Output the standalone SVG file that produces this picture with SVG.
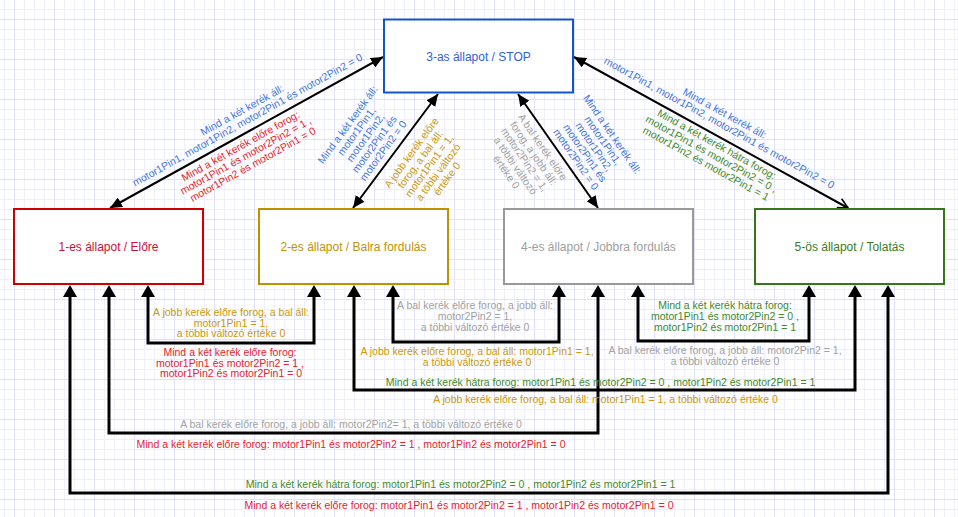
<svg xmlns="http://www.w3.org/2000/svg" width="958" height="517" viewBox="0 0 958 517">
<defs>
<pattern id="grid" width="40" height="40" patternUnits="userSpaceOnUse" x="14" y="19">
<rect width="40" height="40" fill="#ffffff"/>
<path d="M10.5 0V40M20.5 0V40M30.5 0V40M0 10.5H40M0 20.5H40M0 30.5H40" stroke="#eeeefc" stroke-width="1" fill="none"/>
<path d="M0.5 0V40M0 0.5H40" stroke="#e0e0f8" stroke-width="1" fill="none"/>
</pattern>
<marker id="ah" viewBox="0 0 12 14" refX="0" refY="7" markerWidth="12" markerHeight="14" markerUnits="userSpaceOnUse" orient="auto-start-reverse">
<path d="M0 0L12 7L0 14z" fill="#000"/>
</marker>
<marker id="dh" viewBox="0 0 12 11" refX="12" refY="5.5" markerWidth="12" markerHeight="11" markerUnits="userSpaceOnUse" orient="auto-start-reverse">
<path d="M0 0L12 5.5L0 11z" fill="#000"/>
</marker>
<marker id="oh" viewBox="-1 -1 12 12" refX="10" refY="5" markerWidth="12" markerHeight="12" markerUnits="userSpaceOnUse" orient="auto">
<path d="M0 0L10 5L0 10" fill="none" stroke="#000" stroke-width="1.6"/>
</marker>
</defs>
<style>
.node rect{fill:#ffffff;stroke-width:2}
.t{font-family:'Liberation Sans',Arial,Helvetica,sans-serif;font-size:10.5px;text-anchor:middle}
.nt{font-family:'Liberation Sans',Arial,Helvetica,sans-serif;font-size:12px;text-anchor:middle}
.ortho{fill:none;stroke:#000;stroke-width:3;marker-start:url(#ah);marker-end:url(#ah)}
.diag{fill:none;stroke:#000;stroke-width:2}
.blue{fill:#4476dc}
.red{fill:#e5232b}
.gold{fill:#c9990b}
.gray{fill:#a2a2a2}
.green{fill:#3f8a2c}
</style>
<rect x="0" y="0" width="958" height="517" fill="url(#grid)"/>

<g id="connectors">
<path class="diag" d="M110 208L383 57" marker-start="url(#dh)" marker-end="url(#dh)"/>
<path class="diag" d="M353 208L438 94" marker-start="url(#dh)" marker-end="url(#dh)"/>
<path class="diag" d="M518 94L598 208" marker-start="url(#dh)" marker-end="url(#dh)"/>
<path class="diag" d="M574 57L848 208" marker-start="url(#dh)" marker-end="url(#oh)"/>
<path class="ortho" d="M148 297V343H314V297"/>
<path class="ortho" d="M393 297V342H559V297"/>
<path class="ortho" d="M638 297V341H809V297"/>
<path class="ortho" d="M354 297V390H855V297"/>
<path class="ortho" d="M109 297V433H598V297"/>
<path class="ortho" d="M70 297V493H888V297"/>
</g>

<g id="edge-labels">
<g transform="translate(246.5,132.5) rotate(-29.1)">
<text class="t blue"><tspan x="7" y="-18">Mind a két kerék áll:</tspan><tspan x="7" y="-7">motor1Pin1, motor1Pin2, motor2Pin1 és motor2Pin2 = 0</tspan></text>
<text class="t red"><tspan x="-12" y="12.5">Mind a két kerék előre forog:</tspan><tspan x="-12" y="23.5">motor1Pin1 és motor2Pin2 = 1 ,</tspan><tspan x="-10" y="34.5">motor1Pin2 és motor2Pin1 = 0</tspan></text>
</g>
<g transform="translate(395.5,151) rotate(-53.8)">
<text class="t blue"><tspan x="-7" y="-50.5">Mind a két kerék áll:</tspan><tspan x="-7" y="-39.5">motor1Pin1,</tspan><tspan x="-7" y="-28.5">motor1Pin2,</tspan><tspan x="-7" y="-17.5">motor2Pin1 és</tspan><tspan x="-7" y="-6.5">motor2Pin2 = 0</tspan></text>
<text class="t gold"><tspan x="8" y="17.5">A jobb kerék előre</tspan><tspan x="8" y="28.5">forog, a bal áll:</tspan><tspan x="8" y="39.5">motor1Pin1 = 1,</tspan><tspan x="8" y="50.5">a többi változó</tspan><tspan x="8" y="61.5">értéke 0</tspan></text>
</g>
<g transform="translate(558,151) rotate(55.4)">
<text class="t blue"><tspan x="17" y="-50.5">Mind a két kerék áll:</tspan><tspan x="17" y="-39.5">motor1Pin1,</tspan><tspan x="17" y="-28.5">motor1Pin2,</tspan><tspan x="17" y="-17.5">motor2Pin1 és</tspan><tspan x="17" y="-6.5">motor2Pin2 = 0</tspan></text>
<text class="t gray"><tspan x="-12" y="14">A bal kerék előre</tspan><tspan x="-12" y="25">forog, a jobb áll:</tspan><tspan x="-12" y="36">motor2Pin2 = 1,</tspan><tspan x="-12" y="47">a többi változó</tspan><tspan x="-12" y="58">értéke 0</tspan></text>
</g>
<g transform="translate(711.5,133) rotate(28.9)">
<text class="t blue"><tspan x="2" y="-20">Mind a két kerék áll:</tspan><tspan x="2" y="-9">motor1Pin1, motor1Pin2, motor2Pin1 és motor2Pin2 = 0</tspan></text>
<text class="t green"><tspan x="10" y="11">Mind a két kerék hátra forog:</tspan><tspan x="10" y="22">motor1Pin1 és motor2Pin2 = 0 ,</tspan><tspan x="10" y="33">motor1Pin2 és motor2Pin1 = 1</tspan></text>
</g>

<text class="t gold"><tspan x="231" y="316">A jobb kerék előre forog, a bal áll:</tspan><tspan x="231" y="326.5">motor1Pin1 = 1,</tspan><tspan x="231" y="337">a többi változó értéke 0</tspan></text>
<text class="t red"><tspan x="230" y="356">Mind a két kerék előre forog:</tspan><tspan x="230" y="366.5">motor1Pin1 és motor2Pin2 = 1 ,</tspan><tspan x="231" y="377">motor1Pin2 és motor2Pin1 = 0</tspan></text>

<text class="t gray"><tspan x="475" y="309">A bal kerék előre forog, a jobb áll:</tspan><tspan x="475" y="320">motor2Pin2 = 1,</tspan><tspan x="475" y="331">a többi változó értéke 0</tspan></text>
<text class="t gold"><tspan x="477" y="355">A jobb kerék előre forog, a bal áll: motor1Pin1 = 1,</tspan><tspan x="477" y="365.5">a többi változó értéke 0</tspan></text>

<text class="t green"><tspan x="725" y="308.5">Mind a két kerék hátra forog:</tspan><tspan x="725" y="319.5">motor1Pin1 és motor2Pin2 = 0 ,</tspan><tspan x="725" y="330.5">motor1Pin2 és motor2Pin1 = 1</tspan></text>
<text class="t gray"><tspan x="725" y="354">A bal kerék előre forog, a jobb áll: motor2Pin2 = 1,</tspan><tspan x="725" y="364.5">a többi változó értéke 0</tspan></text>

<text class="t green" x="600.5" y="385.5">Mind a két kerék hátra forog: motor1Pin1 és motor2Pin2 = 0 , motor1Pin2 és motor2Pin1 = 1</text>
<text class="t gold" x="605.5" y="402.5">A jobb kerék előre forog, a bal áll: motor1Pin1 = 1, a többi változó értéke 0</text>

<text class="t gray" x="351" y="428">A bal kerék előre forog, a jobb áll: motor2Pin2= 1, a többi változó értéke 0</text>
<text class="t red" x="351" y="448">Mind a két kerék előre forog: motor1Pin1 és motor2Pin2 = 1 , motor1Pin2 és motor2Pin1 = 0</text>

<text class="t green" x="460.5" y="488">Mind a két kerék hátra forog: motor1Pin1 és motor2Pin2 = 0 , motor1Pin2 és motor2Pin1 = 1</text>
<text class="t red" x="459" y="508.5">Mind a két kerék előre forog: motor1Pin1 és motor2Pin2 = 1 , motor1Pin2 és motor2Pin1 = 0</text>
</g>

<g id="node3" class="node">
<rect x="384" y="19.5" width="189" height="73" stroke="#1155cc"/>
<text class="nt" x="478.5" y="60.5" fill="#2f62d6">3-as állapot / STOP</text>
</g>
<g id="node1" class="node">
<rect x="14" y="209" width="189" height="75" stroke="#cc0000"/>
<text class="nt" x="108.5" y="251" fill="#c8103c">1-es állapot / Előre</text>
</g>
<g id="node2" class="node">
<rect x="259" y="209" width="189" height="75" stroke="#bf9000"/>
<text class="nt" x="353.5" y="251" fill="#c29208">2-es állapot / Balra fordulás</text>
</g>
<g id="node4" class="node">
<rect x="504" y="209" width="189" height="75" stroke="#999999"/>
<text class="nt" x="598.5" y="251" fill="#9e9e9e">4-es állapot / Jobbra fordulás</text>
</g>
<g id="node5" class="node">
<rect x="755" y="209" width="189" height="75" stroke="#38761d"/>
<text class="nt" x="849.5" y="251" fill="#3a7d22">5-ös állapot / Tolatás</text>
</g>
</svg>
